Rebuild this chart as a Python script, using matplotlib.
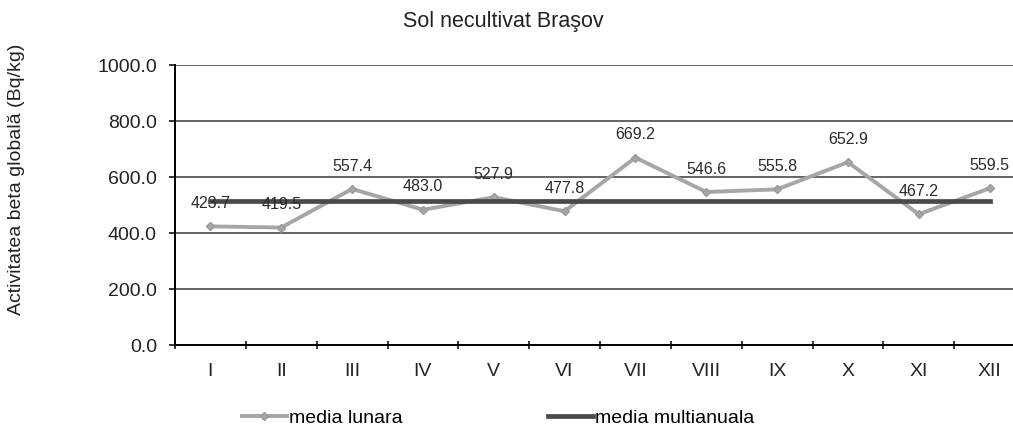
import matplotlib.pyplot as plt
import numpy as np

plt.rcParams['font.family'] = ['Liberation Sans', 'DejaVu Sans']

# monthly means and the multi-annual mean for uncultivated soil, Brasov
months = ['I', 'II', 'III', 'IV', 'V', 'VI', 'VII', 'VIII', 'IX', 'X', 'XI', 'XII']
media_lunara = [423.7, 419.5, 557.4, 483.0, 527.9, 477.8, 669.2, 546.6, 555.8, 652.9, 467.2, 559.5]
media_multianuala = [515.0] * 12
y_ticks = [0, 200, 400, 600, 800, 1000]

x = np.arange(1, 13)
W, H = 1013, 434

fig = plt.figure(figsize=(W / 100, H / 100), dpi=100)
# axes run a little past the right edge, as the last category is cut off
ax = fig.add_axes([175 / W, (H - 345) / H, 850 / W, 280 / H])

ax.plot(x, media_lunara, color='#a6a6a6', lw=2.8, marker='D', ms=4.5,
        mfc='#a6a6a6', mec='#9a9a9a', label='media lunara', zorder=3)
ax.plot(x, media_multianuala, color='#4a4a4a', lw=3.4, label='media multianuala', zorder=4)

for xi, v in zip(x, media_lunara):
    ax.annotate(f'{v:.1f}', (xi, v), xytext=(0, 11), textcoords='offset points',
                ha='center', va='bottom', fontsize=11.5, color='#2a2a2a', zorder=5)

ax.set_xlim(0.5, 12.5)
ax.set_ylim(0, 1000)
ax.set_yticks(y_ticks)
ax.set_yticklabels([f'{t:.1f}' for t in y_ticks], fontsize=14, color='#222222')
ax.yaxis.grid(True, color='#3a3a3a', lw=1.1)
ax.set_axisbelow(True)

# category boundaries carry the ticks, labels sit in between
ax.set_xticks(np.arange(0.5, 13.0, 1.0))
ax.set_xticklabels([])
ax.set_xticks(x, minor=True)
ax.set_xticklabels(months, minor=True, fontsize=14, color='#222222')
ax.tick_params(axis='x', which='minor', length=0, pad=13)
ax.tick_params(axis='x', which='major', length=6, direction='inout', width=1.1)
ax.tick_params(axis='y', length=4, direction='out', width=1.1, pad=9)

for s in ['top', 'right']:
    ax.spines[s].set_visible(False)
ax.spines['left'].set_linewidth(1.4)
ax.spines['bottom'].set_linewidth(1.4)

ax.set_ylabel('Activitatea beta globală (Bq/kg)', fontsize=14, color='#222222')
ax.yaxis.set_label_coords((25 - 175) / 850, (345 - 179) / 280)

fig.text(503 / W, 1 - 22 / H, 'Sol necultivat Braşov', ha='center', va='center',
         fontsize=15.5, color='#222222')

fig.legend(loc='center', bbox_to_anchor=(498 / W, 1 - 418 / H), ncol=2,
           frameon=False, fontsize=14, handlelength=2.3, handletextpad=0.1,
           columnspacing=7.5)

fig.savefig('out.png', dpi=100)
